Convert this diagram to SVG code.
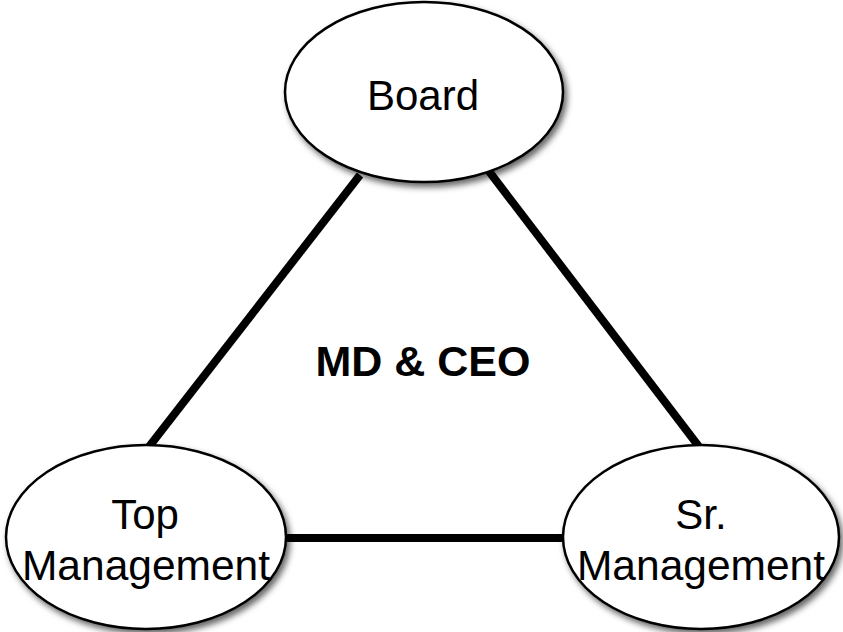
<svg xmlns="http://www.w3.org/2000/svg" width="843" height="632" viewBox="0 0 843 632">
<defs>
<filter id="sh" x="-10%" y="-10%" width="125%" height="130%">
<feDropShadow dx="3" dy="4" stdDeviation="3" flood-color="#000" flood-opacity="0.6"/>
</filter>
<style>
.n{fill:#fff;stroke:#000;stroke-width:2.5;filter:url(#sh)}
.t{font-family:"Liberation Sans",Arial,sans-serif;font-size:42px;fill:#000;text-anchor:middle}
.c{stroke:#000;stroke-width:8;fill:none}
</style>
</defs>
<rect width="843" height="632" fill="#fff"/>
<g id="connectors">
<line class="c" x1="360" y1="175" x2="148" y2="448"/>
<line class="c" x1="488" y1="170" x2="700" y2="448"/>
<line class="c" x1="282" y1="538" x2="566" y2="538"/>
</g>
<g id="board">
<ellipse class="n" cx="424" cy="92" rx="139" ry="90"/>
<text class="t" x="423" y="110">Board</text>
</g>
<g id="center">
<text class="t" x="423" y="376" style="font-weight:bold;font-size:43px">MD &amp; CEO</text>
</g>
<g id="top">
<ellipse class="n" cx="146" cy="537" rx="140" ry="92"/>
<text class="t" x="145" y="529">Top</text>
<text class="t" x="146" y="580" style="font-size:42.5px">Management</text>
</g>
<g id="sr">
<ellipse class="n" cx="701" cy="537" rx="138" ry="92"/>
<text class="t" x="701" y="529">Sr.</text>
<text class="t" x="701" y="580" style="font-size:42.5px">Management</text>
</g>
</svg>
